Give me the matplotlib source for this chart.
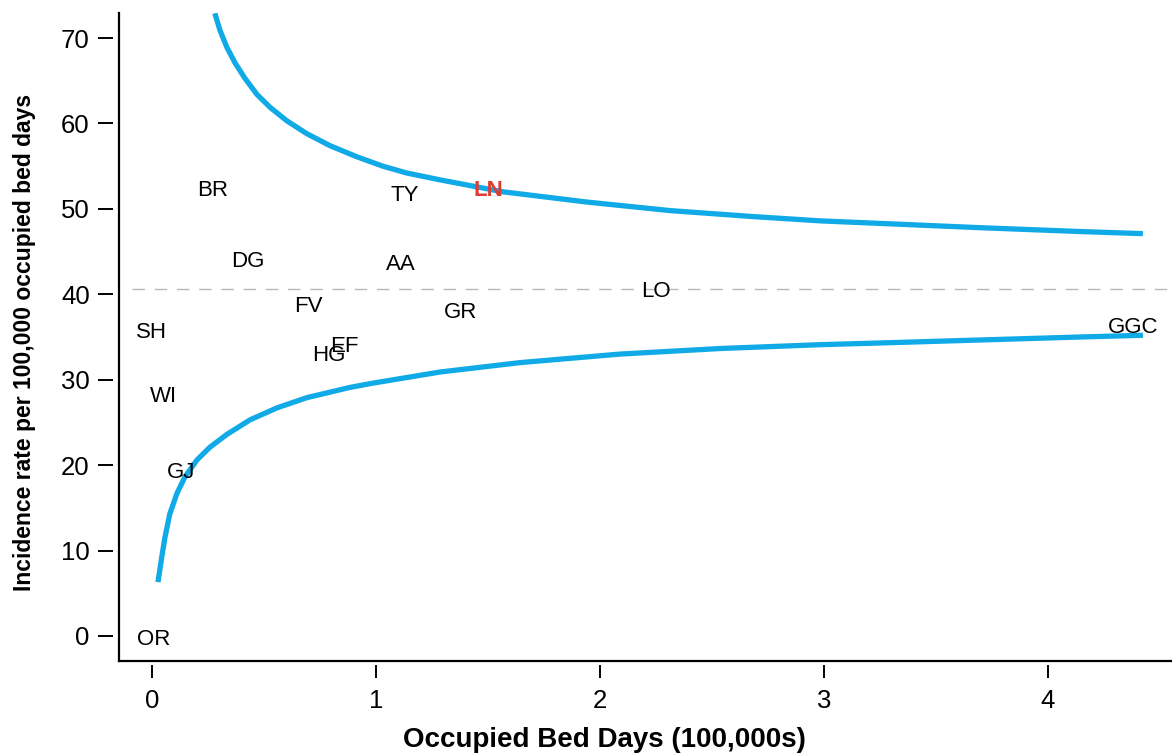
import matplotlib
matplotlib.use("Agg")
import matplotlib.pyplot as plt

plt.rcParams['font.family'] = ['Liberation Sans', 'DejaVu Sans']

# --- data --------------------------------------------------------------
units = ['BR', 'TY', 'LN', 'DG', 'AA', 'LO', 'FV', 'GR',
         'SH', 'GGC', 'EF', 'HG', 'WI', 'GJ', 'OR']
bed_days = [0.27, 1.13, 1.50, 0.43, 1.11, 2.25, 0.70, 1.38,
            0.00, 4.38, 0.86, 0.79, 0.05, 0.13, 0.01]
rates = [52.4, 51.9, 52.4, 44.1, 43.8, 40.6, 38.9, 38.2,
         35.8, 36.4, 34.2, 33.1, 28.3, 19.4, -0.1]
highlight = 'LN'

mean_rate = 40.6

# upper 95% control limit
upper_x = [0.281, 0.304, 0.335, 0.371, 0.415, 0.469, 0.527, 0.603, 0.692,
           0.795, 0.915, 1.031, 1.138, 1.286, 1.567, 1.942, 2.313, 2.683,
           2.982, 3.25, 3.696, 4.143, 4.424]
upper_y = [72.9, 70.9, 68.9, 67.1, 65.3, 63.4, 61.9, 60.3, 58.8,
           57.4, 56.1, 55.0, 54.2, 53.4, 52.0, 50.8, 49.8, 49.1,
           48.6, 48.3, 47.8, 47.35, 47.1]

# lower 95% control limit
lower_x = [0.027, 0.045, 0.058, 0.080, 0.112, 0.147, 0.201, 0.259, 0.335,
           0.438, 0.558, 0.692, 0.884, 0.987, 1.286, 1.643, 2.089, 2.536,
           2.982, 3.25, 3.696, 4.143, 4.424]
lower_y = [6.3, 9.4, 11.5, 14.3, 16.7, 18.6, 20.6, 22.1, 23.6,
           25.3, 26.7, 27.9, 29.1, 29.6, 30.9, 32.0, 33.0, 33.65,
           34.1, 34.3, 34.65, 35.0, 35.2]

x_ticks = [0, 1, 2, 3, 4]
y_ticks = [0, 10, 20, 30, 40, 50, 60, 70]

BLUE = '#10aae6'
RED = '#e03a33'

# --- figure --------------------------------------------------------------
fig = plt.figure(figsize=(11.72, 7.53), dpi=100)
ax = fig.add_axes([0.1015, 0.1222, 0.8985, 0.8605])

ax.axhline(mean_rate, xmin=0.012, xmax=1, color='#b8b8b8', lw=1.0,
           dashes=(9, 7), zorder=1)

ax.plot(upper_x, upper_y, color=BLUE, lw=3.8, solid_capstyle='butt',
        solid_joinstyle='round', zorder=2)
ax.plot(lower_x, lower_y, color=BLUE, lw=3.8, solid_capstyle='butt',
        solid_joinstyle='round', zorder=2)

for name, xv, yv in zip(units, bed_days, rates):
    if name == highlight:
        ax.text(xv, yv, name, ha='center', va='center_baseline', fontsize=16,
                color=RED, fontweight='bold', zorder=3)
    else:
        ax.text(xv, yv, name, ha='center', va='center_baseline', fontsize=16,
                color='black', zorder=3)

ax.set_xlim(-0.147, 4.554)
ax.set_ylim(-2.93, 72.93)

# frame drawn by hand so the ticks can sit slightly off the axis line
for s in ax.spines.values():
    s.set_visible(False)
ax.spines['left'].set_position(('outward', 4))
ax.spines['bottom'].set_position(('outward', 3))
ax.plot([0, 0], [0, 1], transform=ax.transAxes, color='black', lw=1.6,
        clip_on=False, solid_capstyle='projecting')
ax.plot([0, 1], [0, 0], transform=ax.transAxes, color='black', lw=1.6,
        clip_on=False, solid_capstyle='projecting')

ax.set_xticks(x_ticks)
ax.set_yticks(y_ticks)
ax.tick_params(axis='y', length=11, width=1.4, pad=6, labelsize=18.5)
ax.tick_params(axis='x', length=9, width=1.4, pad=8, labelsize=18.5)

ax.set_xlabel('Occupied Bed Days (100,000s)', fontsize=20, fontweight='bold')
ax.xaxis.label.set_va('center')
ax.xaxis.set_label_coords(0.4606, -0.122)

ax.set_ylabel('Incidence rate per 100,000 occupied bed days', fontsize=16.5,
              fontweight='bold')
ax.yaxis.label.set_va('center')
ax.yaxis.set_label_coords(-0.0893, 0.491)

fig.savefig('out.png', dpi=100, facecolor='white')
